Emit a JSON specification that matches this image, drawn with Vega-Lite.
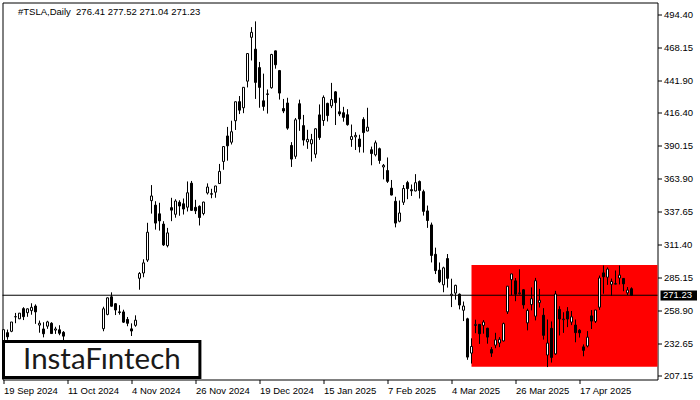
{
  "$schema": "https://vega.github.io/schema/vega-lite/v6.json",
  "width": 655,
  "height": 377,
  "autosize": {"type": "none"},
  "padding": {"left": 2.5, "top": 2.5, "right": 42.5, "bottom": 20.5},
  "background": "white",
  "title": {
    "text": "#TSLA,Daily\u00a0\u00a0276.41 277.52 271.04 271.23",
    "anchor": "start",
    "frame": "group",
    "offset": 0,
    "dx": 15.5,
    "dy": 19,
    "baseline": "middle",
    "font": "Liberation Sans",
    "fontSize": 9.5,
    "fontWeight": "normal",
    "color": "black"
  },
  "config": {
    "view": {"stroke": "black", "strokeWidth": 1},
    "scale": {"continuousPadding": 0},
    "axis": {
      "domain": false,
      "grid": false,
      "tickColor": "black",
      "tickSize": 4,
      "labelColor": "black",
      "labelFont": "Liberation Sans",
      "labelFontSize": 9.5,
      "labelOverlap": false,
      "labelFlush": false,
      "labelBound": false,
      "tickCount": 30
    }
  },
  "datasets": {
    "tsla": [
      {"i":0,"d":"2024-09-19","o":234.00,"h":244.24,"l":232.13,"c":243.92},
      {"i":1,"d":"2024-09-20","o":241.52,"h":243.99,"l":235.92,"c":238.25},
      {"i":2,"d":"2024-09-23","o":242.61,"h":250.00,"l":241.92,"c":250.00},
      {"i":3,"d":"2024-09-24","o":254.08,"h":257.19,"l":249.05,"c":254.27},
      {"i":4,"d":"2024-09-25","o":252.54,"h":257.05,"l":252.28,"c":257.02},
      {"i":5,"d":"2024-09-26","o":260.60,"h":261.75,"l":251.53,"c":254.22},
      {"i":6,"d":"2024-09-27","o":257.38,"h":260.70,"l":254.12,"c":260.46},
      {"i":7,"d":"2024-09-30","o":259.04,"h":264.86,"l":255.77,"c":261.63},
      {"i":8,"d":"2024-10-01","o":262.67,"h":263.98,"l":248.53,"c":258.02},
      {"i":9,"d":"2024-10-02","o":247.55,"h":251.16,"l":241.50,"c":249.02},
      {"i":10,"d":"2024-10-03","o":244.48,"h":249.79,"l":237.81,"c":240.66},
      {"i":11,"d":"2024-10-04","o":246.69,"h":250.96,"l":244.58,"c":250.08},
      {"i":12,"d":"2024-10-07","o":249.00,"h":249.83,"l":240.70,"c":240.83},
      {"i":13,"d":"2024-10-08","o":243.56,"h":246.21,"l":240.56,"c":244.50},
      {"i":14,"d":"2024-10-09","o":243.82,"h":247.43,"l":239.51,"c":241.05},
      {"i":15,"d":"2024-10-10","o":241.81,"h":242.79,"l":232.34,"c":238.77},
      {"i":16,"d":"2024-10-11","o":220.13,"h":223.34,"l":214.38,"c":217.80},
      {"i":17,"d":"2024-10-14","o":220.13,"h":221.91,"l":213.74,"c":219.16},
      {"i":18,"d":"2024-10-15","o":220.01,"h":224.26,"l":217.12,"c":219.57},
      {"i":19,"d":"2024-10-16","o":221.40,"h":222.82,"l":218.93,"c":221.33},
      {"i":20,"d":"2024-10-17","o":221.59,"h":222.08,"l":217.90,"c":220.89},
      {"i":21,"d":"2024-10-18","o":220.71,"h":222.28,"l":219.23,"c":220.70},
      {"i":22,"d":"2024-10-21","o":218.90,"h":220.48,"l":215.73,"c":218.85},
      {"i":23,"d":"2024-10-22","o":217.31,"h":218.22,"l":215.26,"c":217.97},
      {"i":24,"d":"2024-10-23","o":217.13,"h":218.72,"l":212.11,"c":213.65},
      {"i":25,"d":"2024-10-24","o":244.68,"h":262.12,"l":242.65,"c":260.48},
      {"i":26,"d":"2024-10-25","o":256.01,"h":269.49,"l":255.32,"c":269.19},
      {"i":27,"d":"2024-10-28","o":270.00,"h":273.54,"l":262.24,"c":262.51},
      {"i":28,"d":"2024-10-29","o":264.51,"h":264.98,"l":255.51,"c":259.52},
      {"i":29,"d":"2024-10-30","o":258.04,"h":263.35,"l":255.82,"c":257.55},
      {"i":30,"d":"2024-10-31","o":257.99,"h":259.75,"l":249.25,"c":249.85},
      {"i":31,"d":"2024-11-01","o":252.04,"h":254.00,"l":246.63,"c":248.98},
      {"i":32,"d":"2024-11-04","o":244.56,"h":248.90,"l":238.88,"c":242.84},
      {"i":33,"d":"2024-11-05","o":247.34,"h":255.28,"l":246.21,"c":251.44},
      {"i":34,"d":"2024-11-06","o":284.67,"h":289.59,"l":275.62,"c":288.53},
      {"i":35,"d":"2024-11-07","o":288.89,"h":299.75,"l":285.52,"c":296.91},
      {"i":36,"d":"2024-11-08","o":299.14,"h":328.71,"l":297.66,"c":321.22},
      {"i":37,"d":"2024-11-11","o":346.30,"h":358.64,"l":336.00,"c":350.00},
      {"i":38,"d":"2024-11-12","o":342.74,"h":345.84,"l":323.31,"c":328.49},
      {"i":39,"d":"2024-11-13","o":335.85,"h":344.60,"l":322.50,"c":330.24},
      {"i":40,"d":"2024-11-14","o":327.69,"h":329.98,"l":310.37,"c":311.18},
      {"i":41,"d":"2024-11-15","o":310.57,"h":324.68,"l":309.22,"c":320.72},
      {"i":42,"d":"2024-11-18","o":340.73,"h":348.55,"l":330.01,"c":338.74},
      {"i":43,"d":"2024-11-19","o":335.50,"h":347.38,"l":332.75,"c":346.00},
      {"i":44,"d":"2024-11-20","o":345.00,"h":346.60,"l":334.30,"c":342.03},
      {"i":45,"d":"2024-11-21","o":343.81,"h":347.99,"l":335.28,"c":339.64},
      {"i":46,"d":"2024-11-22","o":341.09,"h":361.53,"l":337.70,"c":352.56},
      {"i":47,"d":"2024-11-25","o":360.14,"h":361.93,"l":338.20,"c":338.59},
      {"i":48,"d":"2024-11-26","o":341.00,"h":346.96,"l":335.66,"c":338.23},
      {"i":49,"d":"2024-11-27","o":341.80,"h":342.55,"l":326.59,"c":332.89},
      {"i":50,"d":"2024-11-29","o":336.08,"h":345.45,"l":334.65,"c":345.16},
      {"i":51,"d":"2024-12-02","o":352.38,"h":360.00,"l":351.15,"c":357.09},
      {"i":52,"d":"2024-12-03","o":351.80,"h":355.69,"l":348.20,"c":351.42},
      {"i":53,"d":"2024-12-04","o":353.00,"h":358.10,"l":348.60,"c":357.93},
      {"i":54,"d":"2024-12-05","o":359.87,"h":375.43,"l":359.50,"c":369.49},
      {"i":55,"d":"2024-12-06","o":377.42,"h":389.49,"l":370.80,"c":389.22},
      {"i":56,"d":"2024-12-09","o":397.61,"h":404.80,"l":378.01,"c":389.79},
      {"i":57,"d":"2024-12-10","o":392.68,"h":409.73,"l":390.85,"c":400.99},
      {"i":58,"d":"2024-12-11","o":409.70,"h":424.88,"l":402.38,"c":424.77},
      {"i":59,"d":"2024-12-12","o":424.84,"h":429.30,"l":415.00,"c":418.10},
      {"i":60,"d":"2024-12-13","o":420.00,"h":436.30,"l":415.71,"c":436.23},
      {"i":61,"d":"2024-12-16","o":441.09,"h":463.19,"l":436.15,"c":463.02},
      {"i":62,"d":"2024-12-17","o":475.90,"h":483.99,"l":457.51,"c":479.86},
      {"i":63,"d":"2024-12-18","o":466.50,"h":488.54,"l":427.01,"c":440.13},
      {"i":64,"d":"2024-12-19","o":451.88,"h":456.36,"l":420.02,"c":436.17},
      {"i":65,"d":"2024-12-20","o":425.51,"h":447.08,"l":417.64,"c":421.06},
      {"i":66,"d":"2024-12-23","o":431.00,"h":434.51,"l":415.41,"c":430.60},
      {"i":67,"d":"2024-12-24","o":435.90,"h":462.78,"l":435.14,"c":462.28},
      {"i":68,"d":"2024-12-26","o":465.16,"h":465.33,"l":451.02,"c":454.13},
      {"i":69,"d":"2024-12-27","o":449.52,"h":450.00,"l":426.50,"c":431.66},
      {"i":70,"d":"2024-12-30","o":419.40,"h":427.00,"l":415.75,"c":417.41},
      {"i":71,"d":"2024-12-31","o":423.79,"h":427.93,"l":402.54,"c":403.84},
      {"i":72,"d":"2025-01-02","o":390.10,"h":392.73,"l":373.04,"c":379.28},
      {"i":73,"d":"2025-01-03","o":381.48,"h":411.88,"l":379.45,"c":410.44},
      {"i":74,"d":"2025-01-06","o":423.20,"h":426.43,"l":401.70,"c":411.05},
      {"i":75,"d":"2025-01-07","o":405.83,"h":414.33,"l":390.00,"c":394.36},
      {"i":76,"d":"2025-01-08","o":392.95,"h":402.50,"l":387.40,"c":394.94},
      {"i":77,"d":"2025-01-10","o":391.40,"h":399.28,"l":377.29,"c":394.74},
      {"i":78,"d":"2025-01-13","o":383.21,"h":403.79,"l":380.07,"c":403.31},
      {"i":79,"d":"2025-01-14","o":414.34,"h":422.64,"l":394.54,"c":396.36},
      {"i":80,"d":"2025-01-15","o":409.90,"h":429.80,"l":405.66,"c":428.22},
      {"i":81,"d":"2025-01-16","o":423.49,"h":424.00,"l":409.13,"c":413.82},
      {"i":82,"d":"2025-01-17","o":421.50,"h":439.74,"l":419.75,"c":426.50},
      {"i":83,"d":"2025-01-21","o":432.64,"h":433.20,"l":406.31,"c":424.07},
      {"i":84,"d":"2025-01-22","o":416.81,"h":428.00,"l":413.36,"c":415.11},
      {"i":85,"d":"2025-01-23","o":416.06,"h":420.73,"l":408.95,"c":412.38},
      {"i":86,"d":"2025-01-24","o":414.45,"h":418.88,"l":405.78,"c":406.58},
      {"i":87,"d":"2025-01-27","o":394.80,"h":406.69,"l":389.00,"c":397.15},
      {"i":88,"d":"2025-01-28","o":396.91,"h":400.59,"l":386.50,"c":398.09},
      {"i":89,"d":"2025-01-29","o":395.21,"h":398.59,"l":384.48,"c":389.10},
      {"i":90,"d":"2025-01-30","o":410.78,"h":412.50,"l":384.41,"c":400.28},
      {"i":91,"d":"2025-01-31","o":401.53,"h":419.99,"l":401.34,"c":404.60},
      {"i":92,"d":"2025-02-03","o":386.68,"h":389.17,"l":374.36,"c":383.68},
      {"i":93,"d":"2025-02-04","o":382.63,"h":394.00,"l":381.40,"c":392.21},
      {"i":94,"d":"2025-02-05","o":387.51,"h":388.39,"l":375.53,"c":378.17},
      {"i":95,"d":"2025-02-06","o":373.03,"h":375.40,"l":363.18,"c":374.32},
      {"i":96,"d":"2025-02-07","o":370.19,"h":380.55,"l":360.34,"c":361.62},
      {"i":97,"d":"2025-02-10","o":356.21,"h":362.70,"l":350.51,"c":350.73},
      {"i":98,"d":"2025-02-11","o":345.80,"h":349.37,"l":325.10,"c":328.50},
      {"i":99,"d":"2025-02-12","o":329.94,"h":346.40,"l":329.12,"c":336.51},
      {"i":100,"d":"2025-02-13","o":345.00,"h":358.69,"l":342.85,"c":355.94},
      {"i":101,"d":"2025-02-14","o":360.62,"h":362.00,"l":347.50,"c":355.84},
      {"i":102,"d":"2025-02-18","o":355.01,"h":359.10,"l":350.02,"c":354.11},
      {"i":103,"d":"2025-02-19","o":354.00,"h":367.34,"l":353.67,"c":360.56},
      {"i":104,"d":"2025-02-20","o":361.51,"h":362.30,"l":348.00,"c":354.40},
      {"i":105,"d":"2025-02-21","o":353.44,"h":354.98,"l":334.42,"c":337.80},
      {"i":106,"d":"2025-02-24","o":338.14,"h":342.40,"l":324.70,"c":330.53},
      {"i":107,"d":"2025-02-25","o":327.02,"h":328.89,"l":297.25,"c":302.80},
      {"i":108,"d":"2025-02-26","o":303.71,"h":309.00,"l":288.04,"c":290.80},
      {"i":109,"d":"2025-02-27","o":291.16,"h":297.23,"l":280.88,"c":281.95},
      {"i":110,"d":"2025-02-28","o":279.50,"h":293.88,"l":273.60,"c":292.98},
      {"i":111,"d":"2025-03-03","o":300.34,"h":303.94,"l":277.30,"c":284.65},
      {"i":112,"d":"2025-03-04","o":270.93,"h":284.35,"l":261.84,"c":272.04},
      {"i":113,"d":"2025-03-05","o":272.92,"h":279.55,"l":267.71,"c":279.10},
      {"i":114,"d":"2025-03-06","o":272.06,"h":272.65,"l":260.02,"c":263.45},
      {"i":115,"d":"2025-03-07","o":259.32,"h":266.25,"l":250.73,"c":262.67},
      {"i":116,"d":"2025-03-10","o":252.54,"h":253.37,"l":220.00,"c":222.15},
      {"i":117,"d":"2025-03-11","o":225.31,"h":237.06,"l":217.02,"c":230.58},
      {"i":118,"d":"2025-03-12","o":247.22,"h":251.84,"l":241.10,"c":248.09},
      {"i":119,"d":"2025-03-13","o":248.13,"h":248.29,"l":232.60,"c":240.68},
      {"i":120,"d":"2025-03-14","o":247.31,"h":251.58,"l":240.73,"c":249.98},
      {"i":121,"d":"2025-03-17","o":245.06,"h":245.40,"l":232.80,"c":238.01},
      {"i":122,"d":"2025-03-18","o":228.16,"h":230.10,"l":222.28,"c":225.31},
      {"i":123,"d":"2025-03-19","o":231.61,"h":241.41,"l":229.20,"c":235.86},
      {"i":124,"d":"2025-03-20","o":233.34,"h":238.00,"l":230.05,"c":236.26},
      {"i":125,"d":"2025-03-21","o":234.99,"h":249.52,"l":234.55,"c":248.71},
      {"i":126,"d":"2025-03-24","o":258.08,"h":278.64,"l":256.33,"c":278.39},
      {"i":127,"d":"2025-03-25","o":283.60,"h":288.20,"l":271.28,"c":288.14},
      {"i":128,"d":"2025-03-26","o":282.66,"h":284.90,"l":266.51,"c":272.06},
      {"i":129,"d":"2025-03-27","o":272.48,"h":291.85,"l":271.82,"c":273.13},
      {"i":130,"d":"2025-03-28","o":275.58,"h":276.10,"l":260.57,"c":263.55},
      {"i":131,"d":"2025-03-31","o":249.31,"h":260.56,"l":243.36,"c":259.16},
      {"i":132,"d":"2025-04-01","o":263.80,"h":277.45,"l":259.25,"c":268.46},
      {"i":133,"d":"2025-04-02","o":254.60,"h":284.99,"l":251.27,"c":282.76},
      {"i":134,"d":"2025-04-03","o":265.29,"h":276.30,"l":261.51,"c":267.28},
      {"i":135,"d":"2025-04-04","o":255.38,"h":261.00,"l":236.00,"c":239.43},
      {"i":136,"d":"2025-04-07","o":223.78,"h":252.00,"l":214.25,"c":233.29},
      {"i":137,"d":"2025-04-08","o":245.00,"h":250.44,"l":217.80,"c":221.86},
      {"i":138,"d":"2025-04-09","o":224.69,"h":274.69,"l":223.88,"c":272.20},
      {"i":139,"d":"2025-04-10","o":260.00,"h":262.49,"l":239.33,"c":252.40},
      {"i":140,"d":"2025-04-11","o":251.84,"h":257.74,"l":241.36,"c":252.31},
      {"i":141,"d":"2025-04-14","o":258.36,"h":261.80,"l":245.93,"c":252.35},
      {"i":142,"d":"2025-04-15","o":249.91,"h":258.75,"l":247.54,"c":254.11},
      {"i":143,"d":"2025-04-16","o":247.61,"h":251.97,"l":233.89,"c":241.55},
      {"i":144,"d":"2025-04-17","o":243.47,"h":244.34,"l":237.68,"c":241.37},
      {"i":145,"d":"2025-04-21","o":230.26,"h":232.21,"l":222.79,"c":227.50},
      {"i":146,"d":"2025-04-22","o":230.96,"h":242.79,"l":229.85,"c":237.97},
      {"i":147,"d":"2025-04-23","o":254.86,"h":259.45,"l":244.43,"c":250.74},
      {"i":148,"d":"2025-04-24","o":250.50,"h":259.54,"l":249.20,"c":259.51},
      {"i":149,"d":"2025-04-25","o":261.69,"h":286.85,"l":259.63,"c":284.95},
      {"i":150,"d":"2025-04-28","o":288.98,"h":294.86,"l":272.42,"c":285.88},
      {"i":151,"d":"2025-04-29","o":285.50,"h":293.32,"l":279.47,"c":292.03},
      {"i":152,"d":"2025-04-30","o":279.90,"h":284.45,"l":270.78,"c":282.16},
      {"i":153,"d":"2025-05-01","o":280.01,"h":290.87,"l":279.81,"c":280.52},
      {"i":154,"d":"2025-05-02","o":284.90,"h":294.78,"l":279.81,"c":287.21},
      {"i":155,"d":"2025-05-05","o":284.57,"h":284.85,"l":274.40,"c":280.26},
      {"i":156,"d":"2025-05-06","o":273.11,"h":277.73,"l":271.35,"c":275.35},
      {"i":157,"d":"2025-05-07","o":276.41,"h":277.52,"l":271.04,"c":271.23}
    ],
    "zone": [{"start": 117, "end": 163.5, "top": 295.2, "bottom": 214.5}],
    "last": [{"price": 271.23}]
  },
  "layer": [
    {
      "data": {"name": "zone"},
      "mark": {"type": "rect", "fill": "#ff0000", "stroke": null},
      "encoding": {
        "x": {"field": "start", "type": "quantitative", "title": null, "scale": {"domain": [-0.25, 163.5], "nice": false, "zero": false, "padding": 0}},
        "x2": {"field": "end"},
        "y": {"field": "top", "type": "quantitative", "title": null, "scale": {"domain": [204.37, 503.53], "nice": false, "zero": false, "padding": 0}},
        "y2": {"field": "bottom"}
      }
    },
    {
      "data": {"name": "last"},
      "mark": {"type": "rule", "color": "black", "strokeWidth": 1},
      "encoding": {
        "y": {"field": "price", "type": "quantitative", "title": null, "scale": {"domain": [204.37, 503.53], "nice": false, "zero": false, "padding": 0}}
      }
    },
    {
      "data": {"name": "tsla"},
      "mark": {"type": "rule", "color": "black", "strokeWidth": 1},
      "encoding": {
        "x": {
          "field": "i", "type": "quantitative", "title": null,
          "scale": {"domain": [-0.25, 163.5], "nice": false, "zero": false, "padding": 0},
          "axis": {
            "title": null,
            "values": [0, 16, 32, 48, 64, 80, 96, 112, 128, 144],
            "tickCount": 30,
            "labelExpr": "['19 Sep 2024','11 Oct 2024','4 Nov 2024','26 Nov 2024','19 Dec 2024','15 Jan 2025','7 Feb 2025','4 Mar 2025','26 Mar 2025','17 Apr 2025'][round(datum.value/16)]",
            "labelAlign": "left",
            "labelBaseline": "top",
            "labelPadding": 2,
            "labelOverlap": false,
            "labelFlush": false
          }
        },
        "y": {
          "field": "l", "type": "quantitative", "title": null,
          "scale": {"domain": [204.37, 503.53], "nice": false, "zero": false, "padding": 0},
          "axis": {
            "title": null,
            "orient": "right",
            "values": [207.15, 232.65, 258.90, 285.15, 311.40, 337.65, 363.90, 390.15, 416.40, 441.90, 468.15, 494.40],
            "tickCount": 30,
            "format": ".2f",
            "labelPadding": 2,
            "labelOverlap": false,
            "labelFlush": false,
            "labelBaseline": "middle"
          }
        },
        "y2": {"field": "h"}
      }
    },
    {
      "data": {"name": "tsla"},
      "mark": {"type": "bar", "size": 2, "stroke": "black", "strokeWidth": 1},
      "encoding": {
        "x": {"field": "i", "type": "quantitative", "title": null, "scale": {"domain": [-0.25, 163.5], "nice": false, "zero": false, "padding": 0}},
        "y": {"field": "o", "type": "quantitative", "title": null, "scale": {"domain": [204.37, 503.53], "nice": false, "zero": false, "padding": 0}},
        "y2": {"field": "c"},
        "fill": {"condition": {"test": "datum.c >= datum.o", "value": "white"}, "value": "black"}
      }
    },
    {
      "data": {"values": [{}]},
      "mark": {"type": "rect", "fill": "white", "stroke": "black", "strokeWidth": 3},
      "encoding": {
        "x": {"datum": 0, "type": "quantitative", "title": null, "scale": {"domain": [-0.25, 163.5], "nice": false, "zero": false, "padding": 0}},
        "x2": {"datum": 49.1},
        "y": {"datum": 234.53, "type": "quantitative", "title": null, "scale": {"domain": [204.37, 503.53], "nice": false, "zero": false, "padding": 0}},
        "y2": {"datum": 205.96}
      }
    },
    {
      "data": {"values": [{"t": "InstaF\u0131ntech"}]},
      "mark": {"type": "text", "font": "Lato", "fontSize": 29.5, "fontWeight": "normal", "color": "#1a1a1a", "align": "center", "baseline": "alphabetic"},
      "encoding": {
        "x": {"datum": 24.6, "type": "quantitative", "title": null, "scale": {"domain": [-0.25, 163.5], "nice": false, "zero": false, "padding": 0}},
        "y": {"datum": 212.5, "type": "quantitative", "title": null, "scale": {"domain": [204.37, 503.53], "nice": false, "zero": false, "padding": 0}},
        "text": {"field": "t"}
      }
    },
    {
      "data": {"name": "last"},
      "mark": {"type": "rect", "fill": "black", "stroke": null},
      "encoding": {
        "x": {"datum": 164.25, "type": "quantitative", "title": null, "scale": {"domain": [-0.25, 163.5], "nice": false, "zero": false, "padding": 0}},
        "x2": {"datum": 173.375},
        "y": {"datum": 275.0, "type": "quantitative", "title": null, "scale": {"domain": [204.37, 503.53], "nice": false, "zero": false, "padding": 0}},
        "y2": {"datum": 267.06}
      }
    },
    {
      "data": {"name": "last"},
      "mark": {"type": "text", "font": "Liberation Sans", "fontSize": 9.5, "color": "white", "align": "left", "baseline": "middle"},
      "encoding": {
        "x": {"datum": 164.875, "type": "quantitative", "title": null, "scale": {"domain": [-0.25, 163.5], "nice": false, "zero": false, "padding": 0}},
        "y": {"field": "price", "type": "quantitative", "title": null, "scale": {"domain": [204.37, 503.53], "nice": false, "zero": false, "padding": 0}},
        "text": {"field": "price", "type": "quantitative", "format": ".2f"}
      }
    }
  ]
}
